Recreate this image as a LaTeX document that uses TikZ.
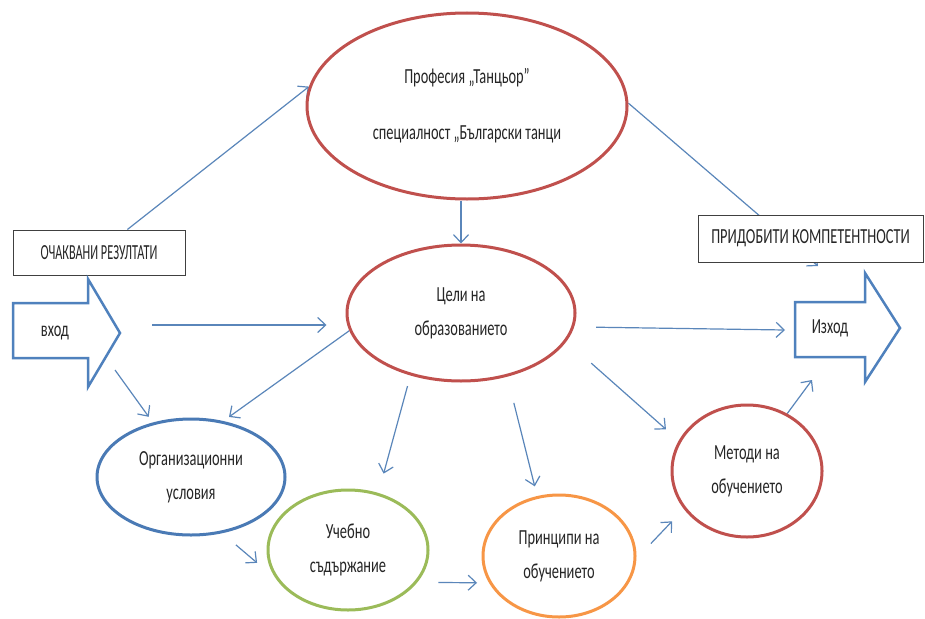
\documentclass[tikz,border=0pt]{standalone}
\usepackage{fontspec}
\setmainfont{Carlito}[FakeStretch=0.67]
\usetikzlibrary{shapes.geometric,arrows.meta,calc}
\definecolor{dred}{HTML}{C0504D}
\definecolor{blu}{HTML}{4F81BD}
\definecolor{oblu}{HTML}{4A7AB5}
\definecolor{grn}{HTML}{9BBB59}
\definecolor{orng}{HTML}{F79646}
\definecolor{lnk}{HTML}{5A86BA}
\definecolor{txt}{HTML}{262626}
\pgfdeclarelayer{background}
\pgfsetlayers{background,main}

\begin{document}
\begin{tikzpicture}[x=1pt,y=-1pt,
        every node/.style={font=\fontsize{21.5}{34}\selectfont,text=txt},
        oval/.style={ellipse,draw,line width=3pt,inner sep=0pt,align=center},
        box/.style={rectangle,draw=black!75,line width=1pt,fill=white,inner sep=0pt},
        conn/.style={line width=1.2pt,draw=lnk,-{Straight Barb[length=8pt,width=15pt]}},
        bigarr/.style={line width=2.5pt,draw=blu,fill=white,line join=miter}]
        \useasboundingbox (0,0) rectangle (925,618);

        \node[oval,draw=dred,minimum width=320,minimum height=186] (prof) at (467,106)
            {Професия „Танцьор”\\[22pt]специалност „Български танци};
        \node[oval,draw=dred,minimum width=228,minimum height=136] (celi) at (461,313) {Цели на\\образованието};
        \node[oval,draw=oblu,minimum width=188,minimum height=116] (org) at (191,477) {Организационни\\условия};
        \node[oval,draw=grn,minimum width=160,minimum height=120] (ucheb) at (348,550) {Учебно\\съдържание};
        \node[oval,draw=orng,minimum width=152,minimum height=122] (princ) at (559,556) {Принципи на\\обучението};
        \node[oval,draw=dred,minimum width=150,minimum height=132] (metodi) at (747,471) {Методи на\\обучението};

        \node[box,minimum width=172,minimum height=45] (ocak) at (99,252.5) {\scalebox{0.85}[1]{ОЧАКВАНИ РЕЗУЛТАТИ}};
        \node[box,minimum width=225,minimum height=47] (prid) at (810.5,238.5) {ПРИДОБИТИ КОМПЕТЕНТНОСТИ};

        \draw[bigarr] (13,303) -- (88,303) -- (88,279) -- (120,333) -- (88,387) -- (88,358) -- (13,358) -- cycle;
        \draw[bigarr] (795,302) -- (865,302) -- (865,273) -- (900,328) -- (865,382) -- (865,357) -- (795,357) -- cycle;
        \node (vhod) at (55,333) {вход};
        \node (izhod) at (830,328) {Изход};

        \begin{pgfonlayer}{background}
        \fill[white] (0,0) rectangle (925,618);
        \draw[conn] (ocak.39) -- (prof.173);
        \draw[conn] (prof.1) -- ([shift={(-12,-62)}]izhod.center);
        \draw[conn] (celi.north |- prof.south) -- (celi.north);
        \draw[conn] ([shift={(97,-8)}]vhod.center) -- ([shift={(-19,12)}]celi.west);
        \draw[conn,shorten >=7pt] ([shift={(60,37)}]vhod.center) -- (org.125);
        \draw[conn,shorten >=7pt] (celi.189) -- (org.60);
        \draw[conn,shorten <=18pt,shorten >=25pt] (org.299) -- (ucheb.202);
        \draw[conn,shorten <=11pt,shorten >=20pt] (celi.231) -- (ucheb.62);
        \draw[conn,shorten <=21pt,shorten >=12pt] (ucheb.335) -- (princ.201);
        \draw[conn,shorten <=27pt,shorten >=10pt] (celi.306) -- (princ.110);
        \draw[conn,shorten <=33pt,shorten >=17pt] (celi.345) -- (metodi.156);
        \draw[conn,shorten <=21pt,shorten >=17pt] (princ.358) -- (metodi.211);
        \draw[conn] (metodi.55) -- ([shift={(-18,52)}]izhod.center);
        \draw[conn,shorten <=22pt] (celi.353) -- ([shift={(-45,2)}]izhod.center);
        \end{pgfonlayer}
    \end{tikzpicture}
\end{document}
